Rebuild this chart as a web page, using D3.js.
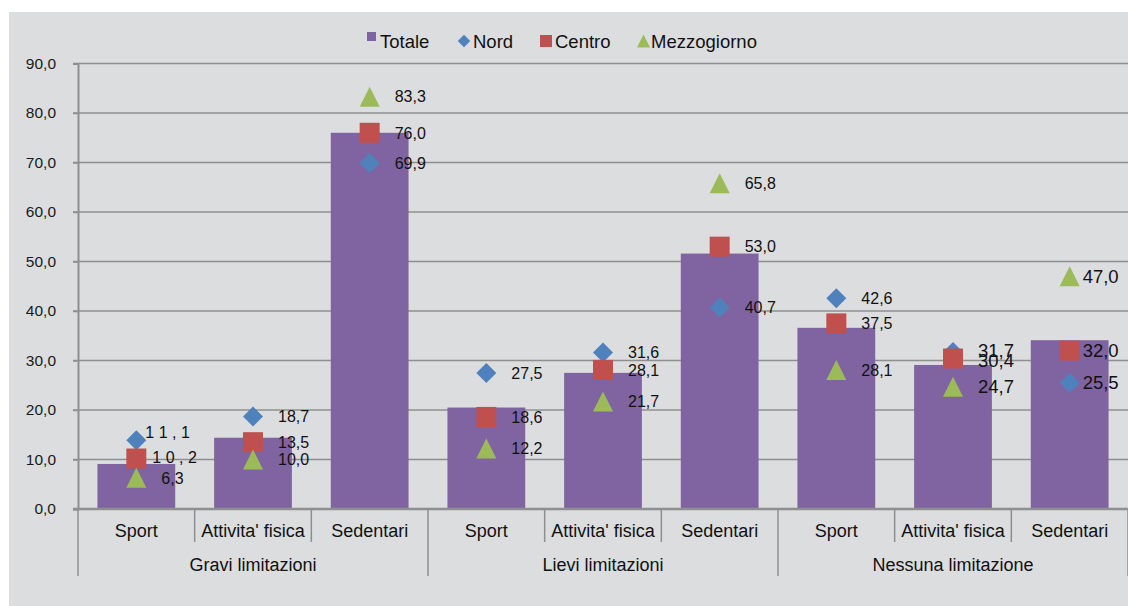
<!DOCTYPE html>
<html>
<head>
<meta charset="utf-8">
<script src="https://cdn.jsdelivr.net/npm/d3@7"></script>
<style>
  html, body { margin: 0; padding: 0; background: #ffffff; }
  svg { display: block; font-family: Arial, "Liberation Sans", sans-serif; }
</style>
</head>
<body>
<svg id="chart" width="1128" height="606"></svg>
<script>
// ---------------- DATA ----------------
const groups = ["Gravi limitazioni", "Lievi limitazioni", "Nessuna limitazione"];
const activities = ["Sport", "Attivita' fisica", "Sedentari"];
const yTicks = [0, 10, 20, 30, 40, 50, 60, 70, 80, 90];

const totale      = [9.1, 14.4, 76.0, 20.5, 27.5, 51.6, 36.6, 29.1, 34.1];
const nord        = [13.9, 18.7, 69.9, 27.5, 31.6, 40.7, 42.6, 31.7, 25.5];
const centro      = [10.2, 13.5, 76.0, 18.6, 28.1, 53.0, 37.5, 30.4, 32.0];
const mezzogiorno = [6.3, 10.0, 83.3, 12.2, 21.7, 65.8, 28.1, 24.7, 47.0];

const nordLabels        = ["1 1 , 1", "18,7", "69,9", "27,5", "31,6", "40,7", "42,6", "31,7", "25,5"];
const centroLabels      = ["1 0 , 2", "13,5", "76,0", "18,6", "28,1", "53,0", "37,5", "30,4", "32,0"];
const mezzogiornoLabels = ["6,3", "10,0", "83,3", "12,2", "21,7", "65,8", "28,1", "24,7", "47,0"];

const seriesNames = ["Totale", "Nord", "Centro", "Mezzogiorno"];

// ---------------- STYLE ----------------
const colors = { Totale: "#8064a2", Nord: "#4f81bd", Centro: "#c0504d", Mezzogiorno: "#9bbb59" };
const bg = "#dcdddf";
const gridColor = "#8f8f8f";

const svg = d3.select("#chart");
svg.append("rect").attr("x", 9).attr("y", 12).attr("width", 1119).attr("height", 594).attr("fill", bg);

const plot = { left: 78, right: 1128, top: 63.5, bottom: 509 };

const cats = [];
groups.forEach(g => activities.forEach(a => cats.push(g + "|" + a)));

const x = d3.scaleBand().domain(cats).range([plot.left, plot.right])
  .paddingInner(1 / 3).paddingOuter(1 / 6);
const step = x.step();
const y = d3.scaleLinear().domain([0, 90]).range([plot.bottom, plot.top]);
const fmt = v => d3.format(".1f")(v).replace(".", ",");

// gridlines
svg.append("g").selectAll("line").data(yTicks.filter(t => t > 0)).join("line")
  .attr("x1", plot.left - 5).attr("x2", plot.right)
  .attr("y1", d => y(d)).attr("y2", d => y(d))
  .attr("stroke", gridColor).attr("stroke-width", 1.5);

// y axis
const yAxis = d3.axisLeft(y).tickValues(yTicks).tickSize(5).tickPadding(17).tickFormat(fmt);
const ya = svg.append("g").attr("transform", `translate(${plot.left},0)`).call(yAxis);
ya.select(".domain").attr("stroke", gridColor).attr("stroke-width", 2);
ya.selectAll(".tick line").attr("stroke", gridColor).attr("stroke-width", 1.5);
ya.selectAll(".tick text").attr("fill", "#1a1a1a").style("font-size", "15.5px")
  .style("font-family", "Arial, 'Liberation Sans', sans-serif");

// bars
svg.append("g").selectAll("rect").data(cats).join("rect")
  .attr("x", d => x(d)).attr("width", x.bandwidth())
  .attr("y", (d, i) => y(totale[i])).attr("height", (d, i) => y(0) - y(totale[i]))
  .attr("fill", colors.Totale);

// x axis line
svg.append("line").attr("x1", plot.left - 5).attr("x2", plot.right)
  .attr("y1", plot.bottom).attr("y2", plot.bottom)
  .attr("stroke", gridColor).attr("stroke-width", 2.5);

// category separators
const sepG = svg.append("g");
for (let i = 0; i <= cats.length; i++) {
  const xx = plot.left + i * step;
  sepG.append("line").attr("x1", xx).attr("x2", xx)
    .attr("y1", plot.bottom).attr("y2", i % 3 === 0 ? 576 : 542)
    .attr("stroke", gridColor).attr("stroke-width", 1.5);
}

// category labels
svg.append("g").selectAll("text").data(cats).join("text")
  .attr("x", d => x(d) + x.bandwidth() / 2).attr("y", 537)
  .attr("text-anchor", "middle").style("font-size", "18px").attr("fill", "#111")
  .text(d => d.split("|")[1]);

// group labels
svg.append("g").selectAll("text").data(groups).join("text")
  .attr("x", (g, i) => plot.left + (i * 3 + 1.5) * step).attr("y", 571)
  .attr("text-anchor", "middle").style("font-size", "18px").attr("fill", "#111")
  .text(d => d);

// markers
const markerSize = 20;
function shapePath(kind, s) {
  const h = s / 2;
  if (kind === "diamond") return `M0,${-h}L${h},0L0,${h}L${-h},0Z`;
  if (kind === "square") return `M${-h},${-h}H${h}V${h}H${-h}Z`;
  return `M0,${-h}L${h},${h}L${-h},${h}Z`;
}
const markerSeries = [
  { name: "Nord", values: nord, labels: nordLabels, shape: "diamond" },
  { name: "Centro", values: centro, labels: centroLabels, shape: "square" },
  { name: "Mezzogiorno", values: mezzogiorno, labels: mezzogiornoLabels, shape: "triangle" }
];

// label placement tweaks (index -> offsets), style only
function labelOffset(series, i) {
  let dx = 25, dy = 0;
  if (i === 0) {
    if (series === "Nord") { dx = 9; dy = -8; }
    if (series === "Centro") { dx = 16; dy = -1; }
  }
  if (i === 8) dx = 13;
  if (i === 7 && series === "Nord") dy = -2;
  if (i === 7 && series === "Centro") dy = 2;
  return { dx, dy };
}
function labelSize(i) { return (i === 7 || i === 8) ? "18.5px" : "16px"; }

markerSeries.forEach(s => {
  const g = svg.append("g");
  g.selectAll("path").data(cats).join("path")
    .attr("transform", (d, i) => `translate(${x(d) + x.bandwidth() / 2},${y(s.values[i])})`)
    .attr("d", shapePath(s.shape, markerSize))
    .attr("fill", colors[s.name]);
});
markerSeries.forEach(s => {
  const g = svg.append("g");
  g.selectAll("text").data(cats).join("text")
    .attr("x", (d, i) => x(d) + x.bandwidth() / 2 + labelOffset(s.name, i).dx)
    .attr("y", (d, i) => y(s.values[i]) + labelOffset(s.name, i).dy)
    .attr("dy", "0.36em")
    .style("font-size", (d, i) => labelSize(i))
    .attr("fill", "#111")
    .text((d, i) => s.labels[i]);
});

// legend
const legendItems = [
  { name: "Totale", shape: "square", size: 9, mx: 371.5, tx: 380 },
  { name: "Nord", shape: "diamond", size: 12.5, mx: 464, tx: 473 },
  { name: "Centro", shape: "square", size: 12, mx: 546, tx: 555 },
  { name: "Mezzogiorno", shape: "triangle", size: 13, mx: 643.5, tx: 651 }
];
const lg = svg.append("g");
legendItems.forEach(it => {
  lg.append("path").attr("transform", `translate(${it.mx},${it.name === "Totale" ? 36.5 : 41})`)
    .attr("d", shapePath(it.shape, it.size)).attr("fill", colors[it.name]);
  lg.append("text").attr("x", it.tx).attr("y", 48).style("font-size", "18.5px")
    .attr("fill", "#111").text(it.name);
});
</script>
</body>
</html>
